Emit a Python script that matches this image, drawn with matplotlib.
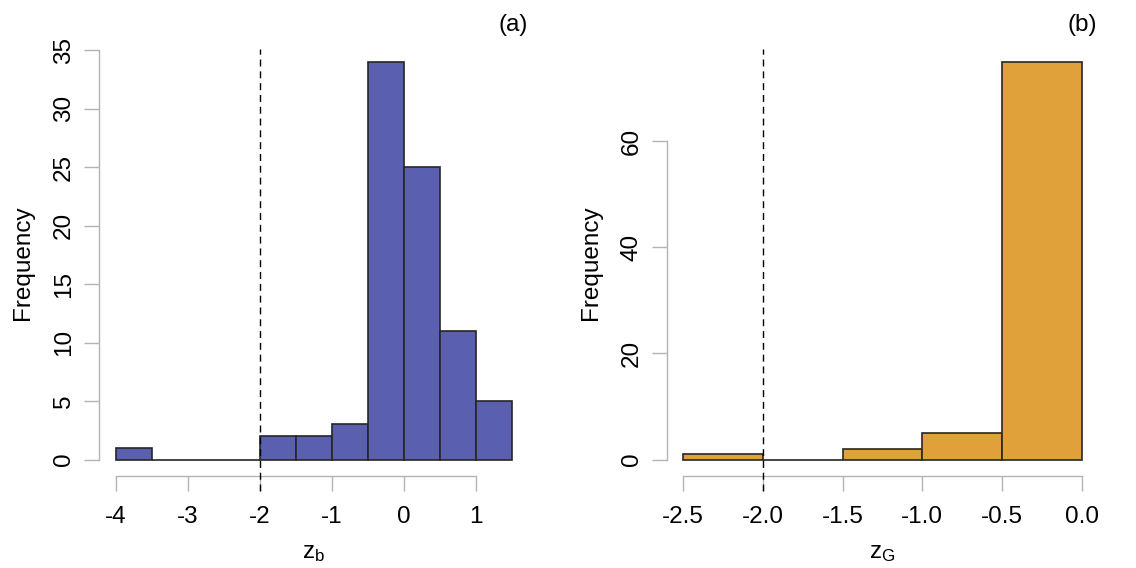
import numpy as np
import matplotlib
matplotlib.use("Agg")
import matplotlib.pyplot as plt

# ---- data ----
a_edges = [-4.0, -3.5, -3.0, -2.5, -2.0, -1.5, -1.0, -0.5, 0.0, 0.5, 1.0, 1.5]
a_counts = [1, 0, 0, 0, 2, 2, 3, 34, 25, 11, 5]
a_xticks = [-4, -3, -2, -1, 0, 1]
a_xticklabels = ["-4", "-3", "-2", "-1", "0", "1"]
a_yticks = [0, 5, 10, 15, 20, 25, 30, 35]
a_threshold = -2.0

b_edges = [-2.5, -2.0, -1.5, -1.0, -0.5, 0.0]
b_counts = [1, 0, 2, 5, 75]
b_xticks = [-2.5, -2.0, -1.5, -1.0, -0.5, 0.0]
b_xticklabels = ["-2.5", "-2.0", "-1.5", "-1.0", "-0.5", "0.0"]
b_yticks = [0, 20, 40, 60]
b_threshold = -2.0

plt.rcParams['font.family'] = ['Liberation Sans', 'DejaVu Sans']
plt.rcParams['mathtext.fontset'] = 'custom'
plt.rcParams['mathtext.rm'] = 'Liberation Sans'
plt.rcParams['mathtext.it'] = 'Liberation Sans'

FS = 17.5
AX_GRAY = '#b3b3b3'

fig = plt.figure(figsize=(11.36, 5.68), dpi=100)
W, H = 1136.0, 568.0

def make_axes(left_px, right_px, top_px=49.0, bottom_px=476.0):
    return fig.add_axes([left_px / W, 1 - bottom_px / H,
                         (right_px - left_px) / W, (bottom_px - top_px) / H])

def style(ax, edges, counts, color, xticks, xlabels, yticks, xlim, ylim,
          thr, xlabel, tag):
    ax.bar(edges[:-1], counts, width=np.diff(edges), align='edge',
           color=color, edgecolor='#262626', linewidth=1.2, zorder=2)
    ax.set_xlim(*xlim)
    ax.set_ylim(*ylim)
    for s in ['top', 'right']:
        ax.spines[s].set_visible(False)
    for s in ['left', 'bottom']:
        ax.spines[s].set_color(AX_GRAY)
        ax.spines[s].set_linewidth(1.0)
    ax.spines['left'].set_bounds(yticks[0], yticks[-1])
    ax.spines['bottom'].set_bounds(xticks[0], xticks[-1])
    ax.set_xticks(xticks)
    ax.set_xticklabels(xlabels)
    ax.set_yticks(yticks)
    ax.set_yticklabels([str(v) for v in yticks], rotation=90, va='center')
    ax.tick_params(axis='both', direction='out', length=10.8, width=1.0,
                   color=AX_GRAY, labelsize=FS, labelcolor='black')
    ax.tick_params(axis='x', pad=11)
    ax.tick_params(axis='y', pad=6.7)
    ax.axvline(thr, ymin=-0.0351, ymax=1.0, color='black', linewidth=1.0,
               linestyle=(0, (5, 3.5)), clip_on=False, zorder=3)
    ax.set_ylabel('Frequency', fontsize=FS)
    ax.yaxis.set_label_coords(-0.1515, 0.5)
    ax.set_xlabel(xlabel, fontsize=FS)
    ax.xaxis.label.set_va('baseline')
    ax.xaxis.set_label_coords(0.5, -0.192)
    ax.text(1.0, 1.041, tag, transform=ax.transAxes, ha='right',
            va='baseline', fontsize=FS)

# panel (a): -4 at 116px, 72 px/unit; 0 at 459.5px, 11.694 px/unit
axA = make_axes(99.3, 527.8)
style(axA, a_edges, a_counts, '#5a5fb0', a_xticks, a_xticklabels, a_yticks,
      (-4 - 16.7 / 72.0, -4 + (527.8 - 116.0) / 72.0),
      (-(476 - 459.5) / 11.694, (459.5 - 49) / 11.694),
      a_threshold, r'$\mathrm{z}_\mathrm{b}$', '(a)')

# panel (b): -2.5 at 683.3px, 159.3 px/unit; 0 at 459.5px, 5.305 px/unit
axB = make_axes(667.3, 1097.0)
style(axB, b_edges, b_counts, '#e1a13a', b_xticks, b_xticklabels, b_yticks,
      (-2.5 - 16.0 / 159.3, -2.5 + (1097.0 - 683.3) / 159.3),
      (-(476 - 459.5) / 5.305, (459.5 - 49) / 5.305),
      b_threshold, r'$\mathrm{z}_\mathrm{G}$', '(b)')

fig.savefig('out.png', dpi=100)
